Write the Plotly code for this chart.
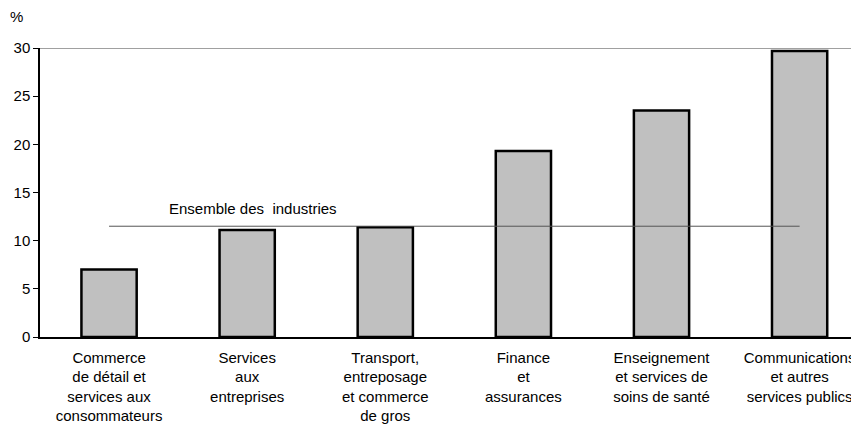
import plotly.graph_objects as go

categories = [
    'Commerce<br>de détail et<br>services aux<br>consommateurs',
    'Services<br>aux<br>entreprises',
    'Transport,<br>entreposage<br>et commerce<br>de gros',
    'Finance<br>et<br>assurances',
    'Enseignement<br>et services de<br>soins de santé',
    'Communications<br>et autres<br>services publics',
]
values = [7.0, 11.1, 11.4, 19.3, 23.5, 29.7]
all_industries = 11.5

positions = list(range(len(categories)))
font = dict(family='Liberation Sans, Arial, sans-serif', size=15, color='black')

fig = go.Figure()
fig.add_trace(go.Bar(
    x=positions, y=values, width=0.4,
    marker=dict(color='#c0c0c0', line=dict(color='black', width=2.5)),
))
fig.add_trace(go.Scatter(
    x=[positions[0], positions[-1]], y=[all_industries, all_industries],
    mode='lines', line=dict(color='#555555', width=1),
))

# top border line at 30
fig.add_shape(type='line', xref='paper', yref='y', x0=0, x1=1, y0=30, y1=30,
              line=dict(color='#808080', width=1.5))

fig.add_annotation(x=1.04, y=all_industries + 1.8, text='Ensemble des  industries',
                   showarrow=False, font=font, xanchor='center', yanchor='middle')
fig.add_annotation(xref='paper', yref='paper', x=-0.029, y=1.11, text='%',
                   showarrow=False, font=font, xanchor='center', yanchor='middle')

fig.update_xaxes(range=[-0.5, 5.43], tickvals=positions, ticktext=categories,
                 showline=True, linecolor='black', linewidth=1.5, showgrid=False,
                 ticks='', zeroline=False, tickfont=font, automargin=False,
                 ticklabelstandoff=6)
fig.update_yaxes(range=[0, 30], dtick=5, showline=True, linecolor='black', linewidth=1.5,
                 ticks='outside', ticklen=5, tickcolor='black', showgrid=False,
                 zeroline=False, tickfont=font, automargin=False)
# page body has an 8px margin, so the figure is shrunk by that much
fig.update_layout(
    width=851, height=426,
    margin=dict(l=32, r=0, t=40, b=97),
    plot_bgcolor='white', paper_bgcolor='white',
    showlegend=False, font=font,
)
fig.write_html("out.html")
